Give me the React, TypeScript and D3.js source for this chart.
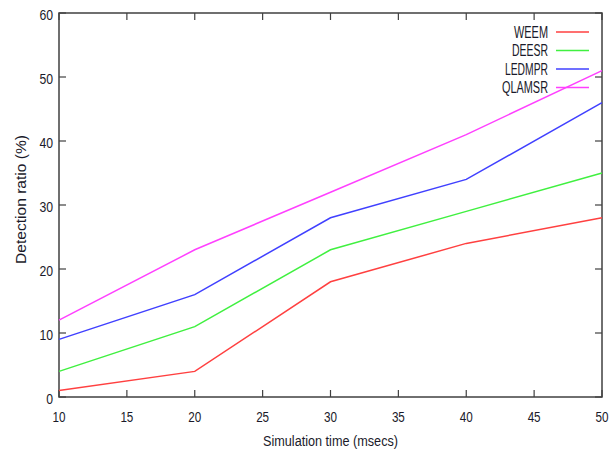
import React from "react";
import * as d3 from "d3";

const xValues = [10, 20, 30, 40, 50];
const weem = [1, 4, 18, 24, 28];
const deesr = [4, 11, 23, 29, 35];
const ledmpr = [9, 16, 28, 34, 46];
const qlamsr = [12, 23, 32, 41, 51];
const seriesNames = ["WEEM", "DEESR", "LEDMPR", "QLAMSR"];
const seriesColors = ["#ff4040", "#40f040", "#4040ff", "#ff40ff"];
const xTicks = [10, 15, 20, 25, 30, 35, 40, 45, 50];
const yTicks = [0, 10, 20, 30, 40, 50, 60];

const W = 614, H = 455;
const L = 59, R = 602, T = 13, B = 397;
const font = "'Liberation Sans', Arial, sans-serif";
const legendWidths = [34, 36, 43, 46];

export default function App() {
  const x = d3.scaleLinear().domain([10, 50]).range([L, R]);
  const y = d3.scaleLinear().domain([0, 60]).range([B, T]);
  const allSeries = [weem, deesr, ledmpr, qlamsr];
  const line = d3.line<number>().x((_, i) => x(xValues[i])).y((d) => y(d));
  const axisColor = "#404040";
  const textColor = "#1a1a2a";
  const tl = 7;
  return (
    <svg width={W} height={H} style={{ position: "absolute", left: 0, top: 0, background: "#fff" }}>
      <rect x={L} y={T} width={R - L} height={B - T} fill="none" stroke={axisColor} strokeWidth={1.5} />
      {xTicks.map((t) => (
        <g key={"x" + t}>
          <line x1={x(t)} x2={x(t)} y1={B} y2={B - tl} stroke={axisColor} strokeWidth={1.2} />
          <line x1={x(t)} x2={x(t)} y1={T} y2={T + tl} stroke={axisColor} strokeWidth={1.2} />
          <text x={x(t) - 6.5} y={B + 25} textLength={13} lengthAdjust="spacingAndGlyphs" fontFamily={font} fontSize={14.5} fill={textColor}>{t}</text>
        </g>
      ))}
      {yTicks.map((t) => {
        const w = String(t).length * 6.8;
        return (
          <g key={"y" + t}>
            <line x1={L} x2={L + tl} y1={y(t)} y2={y(t)} stroke={axisColor} strokeWidth={1.2} />
            <line x1={R} x2={R - tl} y1={y(t)} y2={y(t)} stroke={axisColor} strokeWidth={1.2} />
            <text x={L - 6 - w} y={y(t) + 7} textLength={w} lengthAdjust="spacingAndGlyphs" fontFamily={font} fontSize={14.5} fill={textColor}>{t}</text>
          </g>
        );
      })}
      {allSeries.map((s, i) => (
        <path key={seriesNames[i]} d={line(s) || ""} fill="none" stroke={seriesColors[i]} strokeWidth={1.5} />
      ))}
      {seriesNames.map((n, i) => {
        const ly = 32 + i * 18.5;
        return (
          <g key={"lg" + n}>
            <text x={548 - legendWidths[i]} y={ly + 5.5} textLength={legendWidths[i]} lengthAdjust="spacingAndGlyphs" fontFamily={font} fontSize={16} fill={textColor}>{n}</text>
            <line x1={556} x2={589} y1={ly} y2={ly} stroke={seriesColors[i]} strokeWidth={1.5} />
          </g>
        );
      })}
      <text x={263} y={446} textLength={135} lengthAdjust="spacingAndGlyphs" fontFamily={font} fontSize={15.5} fill={textColor}>Simulation time (msecs)</text>
      <text transform={`translate(26,264) rotate(-90)`} textLength={129} lengthAdjust="spacingAndGlyphs" fontFamily={font} fontSize={14} fill={textColor}>Detection ratio (%)</text>
    </svg>
  );
}
